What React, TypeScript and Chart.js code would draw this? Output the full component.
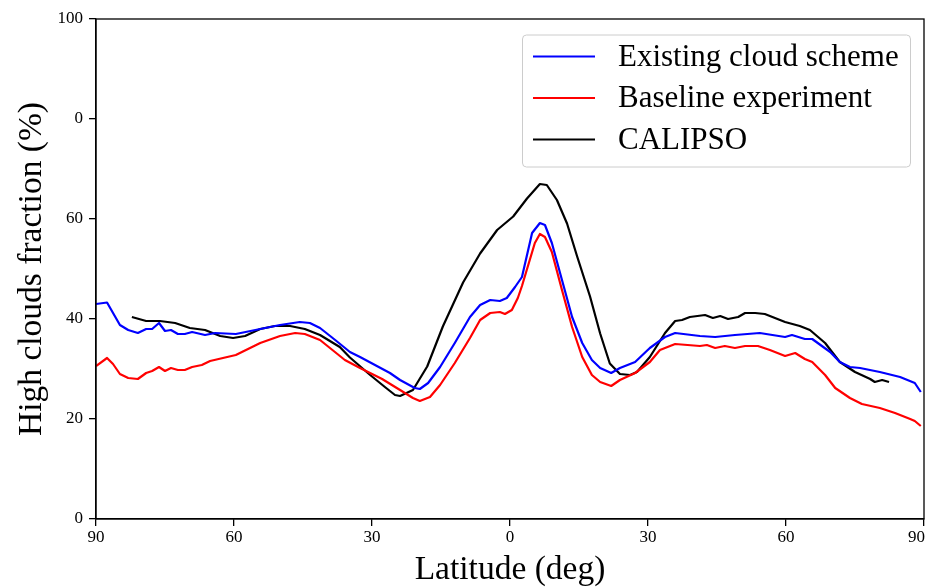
import React, { useEffect, useRef } from "react";
import { Chart, registerables } from "chart.js";
Chart.register(...registerables);

const seriesLabels = ["Existing cloud scheme", "Baseline experiment", "CALIPSO"];
const seriesColors = ["#0000ff", "#ff0000", "#000000"];

const existingLat = [-90, -87.6, -84.8, -83.0, -80.9, -79.1, -77.8, -76.3, -75.0, -73.7, -72.2, -70.7, -69.1, -66.3, -64.1, -59.6, -54.3, -50.0, -45.7, -43.5, -41.3, -38.0, -34.8, -32.6, -26.1, -23.9, -20.7, -19.6, -17.8, -15.2, -12.0, -8.7, -6.5, -4.3, -2.2, -0.7, 1.1, 2.6, 4.8, 6.5, 7.6, 9.1, 11.3, 13.5, 15.7, 17.8, 19.6, 22.0, 23.9, 27.2, 30.4, 33.7, 35.9, 41.3, 44.6, 48.9, 54.3, 59.8, 61.3, 64.1, 65.7, 69.6, 71.7, 73.9, 76.1, 80.4, 84.8, 88.0, 89.3];
const existingVal = [43.0, 43.3, 38.8, 37.8, 37.2, 38.0, 38.0, 39.2, 37.6, 37.8, 37.0, 37.0, 37.4, 36.8, 37.2, 37.0, 38.0, 38.8, 39.4, 39.2, 38.2, 35.8, 33.4, 32.4, 29.2, 27.8, 26.2, 26.0, 27.2, 30.4, 35.2, 40.4, 42.8, 43.8, 43.6, 44.2, 46.4, 48.4, 57.2, 59.2, 58.8, 55.2, 47.8, 40.4, 35.2, 31.8, 30.2, 29.2, 30.2, 31.4, 34.2, 36.4, 37.2, 36.6, 36.4, 36.8, 37.2, 36.4, 36.8, 36.0, 36.0, 33.4, 31.4, 30.4, 30.2, 29.4, 28.4, 27.2, 25.4];

const baselineLat = [-90, -87.6, -86.3, -84.8, -83.0, -80.9, -79.1, -77.8, -76.3, -75.0, -73.7, -72.2, -70.7, -69.1, -67.0, -65.2, -59.6, -54.3, -50.0, -46.7, -44.6, -41.3, -35.9, -32.6, -27.8, -23.9, -21.1, -19.6, -17.4, -15.2, -12.0, -8.7, -6.5, -4.3, -2.2, -1.1, 0.4, 1.7, 2.6, 5.4, 6.5, 7.6, 9.1, 11.3, 13.5, 15.7, 17.8, 19.6, 22.0, 23.9, 27.2, 30.4, 32.6, 34.8, 35.9, 41.3, 42.8, 44.6, 46.7, 48.9, 51.1, 53.9, 56.5, 59.8, 62.0, 64.1, 65.7, 68.5, 70.7, 73.9, 76.5, 80.4, 83.7, 87.0, 88.0, 89.3];
const baselineVal = [30.6, 32.2, 31.0, 29.0, 28.2, 28.0, 29.2, 29.6, 30.4, 29.6, 30.2, 29.8, 29.8, 30.4, 30.8, 31.6, 32.8, 35.2, 36.6, 37.2, 37.0, 35.8, 31.8, 30.2, 28.0, 25.8, 24.2, 23.6, 24.4, 26.8, 31.2, 36.2, 39.8, 41.2, 41.4, 41.0, 41.8, 44.2, 46.6, 55.2, 57.0, 56.4, 53.4, 45.8, 38.4, 32.4, 28.8, 27.4, 26.6, 27.8, 29.2, 31.4, 33.8, 34.6, 35.0, 34.6, 34.8, 34.2, 34.6, 34.2, 34.6, 34.6, 33.8, 32.6, 33.2, 32.0, 31.4, 28.8, 26.2, 24.2, 23.0, 22.2, 21.2, 20.0, 19.6, 18.6];

const calipsoLat = [-82.2, -79.1, -76.1, -72.8, -69.6, -66.3, -63.0, -60.2, -57.6, -54.3, -51.1, -47.8, -44.6, -41.3, -37.0, -34.8, -30.4, -27.2, -25.0, -23.9, -21.1, -18.0, -14.6, -10.2, -6.5, -2.8, 0.7, 3.7, 6.5, 8.0, 10.2, 12.4, 14.6, 17.4, 19.6, 21.7, 23.9, 26.1, 27.6, 30.4, 33.7, 35.9, 37.4, 39.1, 42.4, 44.1, 45.7, 47.4, 49.6, 51.1, 53.3, 55.4, 59.8, 63.0, 65.2, 68.5, 71.7, 75.0, 78.3, 79.3, 80.9, 82.4];
const calipsoVal = [40.4, 39.6, 39.6, 39.2, 38.2, 37.8, 36.6, 36.2, 36.6, 38.0, 38.6, 38.6, 38.0, 36.8, 34.4, 32.3, 28.8, 26.4, 24.8, 24.6, 25.8, 30.5, 38.5, 47.3, 53.1, 57.8, 60.5, 64.1, 67.0, 66.8, 63.8, 59.1, 52.5, 44.5, 37.1, 31.1, 29.0, 28.8, 29.4, 32.4, 37.2, 39.6, 39.8, 40.4, 40.8, 40.2, 40.6, 40.0, 40.4, 41.2, 41.2, 41.0, 39.4, 38.6, 37.8, 35.2, 31.4, 29.4, 28.0, 27.4, 27.8, 27.4];

const xTicks = [-90, -60, -30, 0, 30, 60, 90];
const xTickLabels = ["90", "60", "30", "0", "30", "60", "90"];
const yTicks = [0, 20, 40, 60, 80, 100];
const yTickLabels = ["0", "20", "40", "60", "0", "100"];

const xTitle = "Latitude (deg)";
const yTitle = "High clouds fraction (%)";

const FONT = "'Liberation Serif', 'Times New Roman', serif";

function pts(xs: number[], ys: number[]) {
  return xs.map((x, i) => ({ x, y: ys[i] }));
}

const framePlugin = {
  id: "frameAndTitles",
  afterDatasetsDraw(chart: any) {
    const { ctx, chartArea } = chart;
    ctx.save();
    ctx.strokeStyle = "#000";
    ctx.lineWidth = 1.3;
    ctx.strokeRect(chartArea.left, chartArea.top, chartArea.right - chartArea.left, chartArea.bottom - chartArea.top);

    // x tick labels (kept inside the canvas)
    const xs = chart.scales.x;
    ctx.fillStyle = "#000";
    ctx.font = `17px ${FONT}`;
    ctx.textBaseline = "top";
    ctx.textAlign = "center";
    xTicks.forEach((v, i) => {
      const label = xTickLabels[i];
      const w = ctx.measureText(label).width;
      let cx = xs.getPixelForValue(v);
      if (cx + w / 2 > chart.width - 1) cx = chart.width - 1 - w / 2;
      ctx.fillText(label, cx, chartArea.bottom + 10);
    });

    // legend
    const bx = chartArea.right - 402;
    const by = chartArea.top + 15.5;
    const bw = 388;
    const bh = 132;
    ctx.beginPath();
    if (ctx.roundRect) ctx.roundRect(bx + 0.5, by + 0.5, bw, bh, 4);
    else ctx.rect(bx + 0.5, by + 0.5, bw, bh);
    ctx.fillStyle = "rgba(255,255,255,0.8)";
    ctx.fill();
    ctx.strokeStyle = "#cccccc";
    ctx.lineWidth = 1;
    ctx.stroke();
    chart.data.datasets.forEach((ds: any, i: number) => {
      const y = by + 22 + i * 41.5;
      ctx.beginPath();
      ctx.strokeStyle = ds.borderColor;
      ctx.lineWidth = 2.2;
      ctx.moveTo(bx + 11, y);
      ctx.lineTo(bx + 73, y);
      ctx.stroke();
      ctx.fillStyle = "#000";
      ctx.font = `31px ${FONT}`;
      ctx.textBaseline = "middle";
      ctx.textAlign = "left";
      ctx.fillText(ds.label, bx + 96, y + 1);
    });

    // axis titles
    ctx.fillStyle = "#000";
    ctx.font = `33.5px ${FONT}`;
    ctx.textAlign = "center";
    ctx.textBaseline = "alphabetic";
    ctx.fillText(xTitle, (chartArea.left + chartArea.right) / 2, 579);
    ctx.translate(41, (chartArea.top + chartArea.bottom) / 2);
    ctx.rotate(-Math.PI / 2);
    ctx.fillText(yTitle, 0, 0);
    ctx.restore();
  },
};

export default function App() {
  const ref = useRef<HTMLCanvasElement>(null);
  useEffect(() => {
    if (!ref.current) return;
    const chart = new Chart(ref.current, {
      type: "line",
      data: {
        datasets: [
          { label: seriesLabels[0], data: pts(existingLat, existingVal), borderColor: seriesColors[0] },
          { label: seriesLabels[1], data: pts(baselineLat, baselineVal), borderColor: seriesColors[1] },
          { label: seriesLabels[2], data: pts(calipsoLat, calipsoVal), borderColor: seriesColors[2] },
        ].map((d) => ({ ...d, borderWidth: 2.2, pointRadius: 0, tension: 0, fill: false, borderJoinStyle: "round" as const })),
      },
      options: {
        responsive: false,
        animation: false,
        devicePixelRatio: 1,
        layout: { padding: { top: 19, right: 2, left: 0, bottom: 0 } },
        plugins: { legend: { display: false }, tooltip: { enabled: false } },
        scales: {
          x: {
            type: "linear",
            min: -90,
            max: 90,
            afterBuildTicks: (s: any) => {
              s.ticks = xTicks.map((v) => ({ value: v }));
            },
            afterFit: (s: any) => {
              s.height = 69;
              s.paddingLeft = 0;
              s.paddingRight = 0;
            },
            ticks: {
              display: false,
              autoSkip: false,
              maxRotation: 0,
            },
            grid: { drawOnChartArea: false, drawTicks: true, tickLength: 7, color: "#000", lineWidth: 1.3 },
            border: { display: true, color: "#000", width: 1.3 },
          },
          y: {
            type: "linear",
            min: 0,
            max: 100,
            afterBuildTicks: (s: any) => {
              s.ticks = yTicks.map((v) => ({ value: v }));
            },
            afterFit: (s: any) => {
              s.width = 96;
              s.paddingTop = 0;
              s.paddingBottom = 0;
            },
            ticks: {
              autoSkip: false,
              padding: 6,
              color: "#000",
              font: { family: FONT, size: 17 },
              callback: (_v: any, i: number) => yTickLabels[i],
            },
            grid: { drawOnChartArea: false, drawTicks: true, tickLength: 7, color: "#000", lineWidth: 1.3 },
            border: { display: true, color: "#000", width: 1.3 },
          },
        },
      },
      plugins: [framePlugin],
    });
    return () => chart.destroy();
  }, []);
  return (
    <div style={{ position: "absolute", left: 0, top: 0, width: 926, height: 588, background: "#fff" }}>
      <canvas ref={ref} width={926} height={588} style={{ display: "block" }} />
    </div>
  );
}
